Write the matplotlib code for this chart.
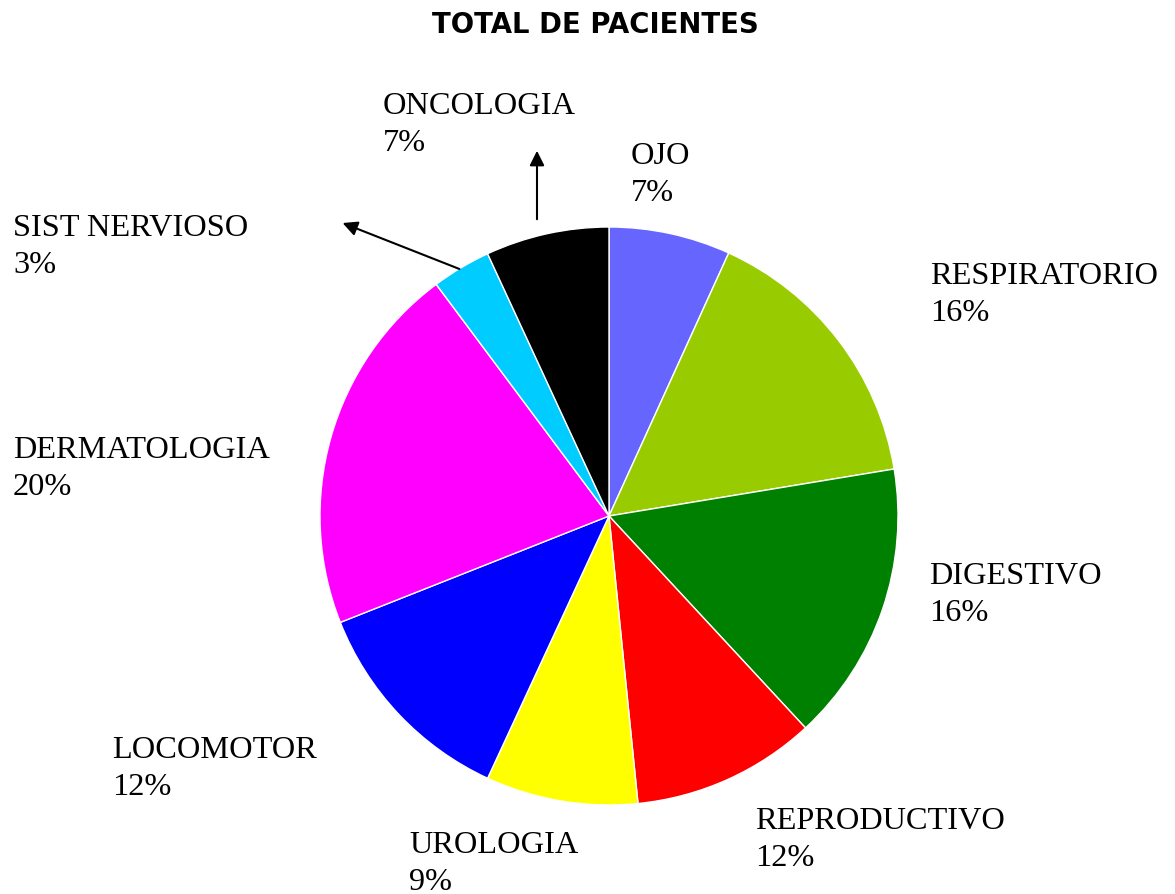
import matplotlib
matplotlib.use("Agg")
import matplotlib.pyplot as plt

# slices, clockwise from 12 o'clock
categorias = ["OJO", "RESPIRATORIO", "DIGESTIVO", "REPRODUCTIVO", "UROLOGIA",
              "LOCOMOTOR", "DERMATOLOGIA", "SIST NERVIOSO", "ONCOLOGIA"]
valores = [6.8, 15.6, 15.7, 10.3, 8.5, 12.1, 20.8, 3.3, 6.9]  # share of the circle
etiquetas_pct = ["7%", "16%", "16%", "12%", "9%", "12%", "20%", "3%", "7%"]
colores = ["#6666FF", "#99CC00", "#008000", "#FF0000", "#FFFF00",
           "#0000FF", "#FF00FF", "#00CCFF", "#000000"]

W, H = 1175, 894


def py(y):
    # pixel row (from top) -> data y
    return H - y


fig = plt.figure(figsize=(W / 100, H / 100), dpi=100)
ax = fig.add_axes([0, 0, 1, 1])

ax.pie(valores, colors=colores, startangle=90, counterclock=False,
       center=(609, py(516)), radius=289,
       wedgeprops=dict(edgecolor="white", linewidth=1))
ax.set_xlim(0, W)
ax.set_ylim(0, H)
ax.set_aspect("equal")
ax.axis("off")

# label anchors (left, top) in pixels
pos = {
    "OJO": (631, 142),
    "RESPIRATORIO": (930, 262),
    "DIGESTIVO": (929, 562),
    "REPRODUCTIVO": (755, 807),
    "UROLOGIA": (409, 831),
    "LOCOMOTOR": (112, 736),
    "DERMATOLOGIA": (13, 436),
    "SIST NERVIOSO": (13, 214),
    "ONCOLOGIA": (383, 92),
}
for cat, pct in zip(categorias, etiquetas_pct):
    x, y = pos[cat]
    ax.text(x, py(y), cat + "\n" + pct, ha="left", va="top",
            fontsize=23.3, family="Liberation Serif", color="black",
            linespacing=1.38)

ax.text(595, py(11), "TOTAL DE PACIENTES", ha="center", va="top",
        fontsize=19.8, fontweight="bold", family="DejaVu Sans")

# arrows for the small slices
flecha = dict(arrowstyle="-|>", color="black", lw=1.5, mutation_scale=22)
ax.annotate("", xy=(537, py(148)), xytext=(537, py(222)), arrowprops=flecha)
ax.annotate("", xy=(340, py(222)), xytext=(462, py(270)), arrowprops=flecha)

fig.savefig("out.png", dpi=100)
